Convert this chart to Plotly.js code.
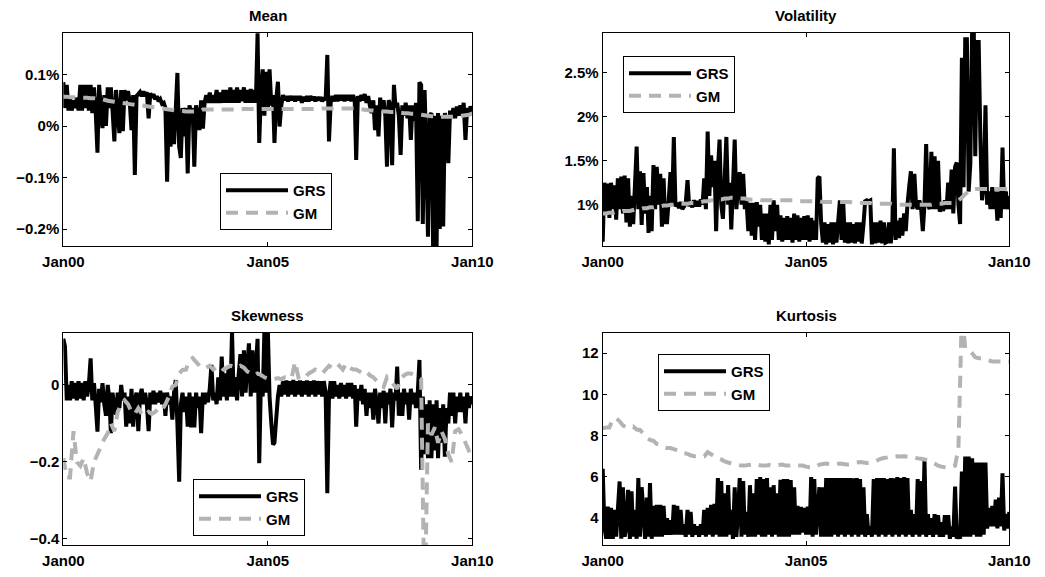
<!DOCTYPE html>
<html>
<head>
<meta charset="utf-8">
<script src="https://cdn.plot.ly/plotly-3.0.1.min.js"></script>
<style>
  html, body { margin: 0; padding: 0; background: #fff; }
  #chart { width: 1045px; height: 577px; }
</style>
</head>
<body>
<div id="chart"></div>
<script>
// Semi-monthly grid for the GRS series, monthly grid for the GM series (Jan 2000 .. Jan 2010)
const semiDates = [];
const monthDates = [];
for (let y = 2000; y <= 2009; y++) {
  for (let m = 1; m <= 12; m++) {
    const mm = String(m).padStart(2, '0');
    semiDates.push(`${y}-${mm}-01`, `${y}-${mm}-16`);
    monthDates.push(`${y}-${mm}-01`);
  }
}
semiDates.push('2010-01-01');
monthDates.push('2010-01-01');

// ---- Mean (%) ----
const meanGRS = [
  0.085,0.035,0.08,0.03,0.055,0.03,0.05,0.035,0.055,0.03,0.08,0.03,0.08,0.035,0.08,0.03,0.08,0.025,0.075,0.03,-0.052,0.08,0.035,-0.004,
  0.06,0.0,0.075,0.035,0.075,0.03,-0.03,0.07,0.03,-0.014,0.07,-0.01,0.07,0.05,0.068,0.048,-0.008,0.06,-0.095,0.058,0.062,0.066,0.058,0.067,
  0.058,0.066,0.015,0.064,0.055,0.062,0.052,0.058,0.048,0.052,0.043,0.045,0.035,-0.108,0.035,-0.04,0.03,-0.035,0.03,0.103,-0.04,-0.062,0.035,-0.02,
  0.035,-0.092,0.04,0.025,0.035,-0.079,0.04,0.02,-0.008,0.05,-0.005,0.045,0.06,0.045,0.065,0.045,0.06,0.045,0.07,0.045,0.065,0.045,0.07,0.045,
  0.07,0.045,0.075,0.045,0.07,0.045,0.075,0.045,0.07,0.048,0.075,0.045,0.07,0.045,0.072,0.045,0.07,0.045,0.18,-0.033,0.07,0.11,0.02,0.105,
  0.03,0.11,0.04,0.06,-0.033,0.05,0.086,-0.001,0.04,0.06,0.05,0.058,0.048,0.058,0.05,0.058,0.048,0.058,0.05,0.058,0.045,0.057,0.048,0.058,
  0.048,0.058,0.05,0.057,0.048,0.056,0.05,0.056,0.048,0.055,0.05,0.138,-0.03,0.045,0.058,0.048,0.06,0.048,0.06,0.05,0.06,0.048,0.06,0.05,
  0.06,0.048,0.06,0.047,-0.066,0.058,0.048,0.06,0.05,0.062,0.045,0.058,0.04,0.025,0.05,-0.008,0.04,-0.02,0.055,0.03,0.05,0.02,-0.079,0.05,
  0.04,-0.076,0.08,0.035,0.045,0.02,-0.056,0.04,0.02,0.045,0.015,0.04,-0.027,0.04,0.01,0.045,-0.185,0.085,0.08,-0.19,0.07,-0.05,-0.215,0.02,
  0.025,-0.24,0.02,-0.24,0.025,-0.2,0.02,-0.195,0.025,0.0,-0.072,0.03,0.015,0.035,0.015,0.038,0.02,0.04,0.02,0.045,-0.027,0.035,0.02,0.038,0.028
];
const meanGM = [
  0.057,0.057,0.056,0.056,0.056,0.055,0.055,0.055,0.054,0.054,0.053,0.053,
  0.051,0.049,0.048,0.047,0.046,0.045,0.044,0.043,0.042,0.041,0.040,0.040,
  0.039,0.038,0.037,0.036,0.035,0.034,0.033,0.032,0.031,0.030,0.029,0.029,
  0.028,0.028,0.028,0.028,0.029,0.032,0.032,0.032,0.032,0.032,0.032,0.032,
  0.032,0.032,0.032,0.032,0.032,0.033,0.033,0.033,0.033,0.033,0.033,0.033,
  0.033,0.033,0.033,0.033,0.033,0.033,0.033,0.033,0.033,0.033,0.033,0.033,
  0.033,0.033,0.033,0.033,0.034,0.034,0.034,0.034,0.034,0.034,0.034,0.034,
  0.034,0.034,0.034,0.033,0.032,0.031,0.030,0.030,0.029,0.029,0.028,0.028,
  0.027,0.027,0.026,0.026,0.025,0.025,0.024,0.024,0.023,0.022,0.021,0.020,
  0.019,0.019,0.018,0.018,0.018,0.018,0.018,0.019,0.019,0.020,0.021,0.022,0.024
];

// ---- Volatility (%) ----
const volGRS = [
  0.58,1.25,0.9,1.24,0.85,1.25,0.95,1.22,0.83,1.3,0.95,1.32,0.9,1.33,0.8,1.3,0.75,1.1,0.78,1.2,1.66,0.95,1.38,0.77,
  1.36,0.9,1.2,0.68,1.1,0.7,1.45,0.95,1.43,1.0,1.35,0.75,1.3,0.8,0.8,1.05,1.37,1.0,1.77,0.98,1.02,0.96,1.03,0.95,
  0.98,1.02,1.28,0.98,1.04,0.97,1.05,0.98,1.04,0.98,1.06,1.0,1.3,0.95,1.83,1.1,1.56,1.2,1.5,0.7,1.4,1.74,1.0,0.84,
  1.3,1.77,1.0,1.25,0.72,1.2,1.74,0.95,1.2,1.37,1.0,1.35,0.95,1.05,0.7,1.02,0.65,1.02,0.6,1.03,0.75,1.0,0.6,0.9,
  0.58,0.9,0.55,1.0,0.6,1.05,0.7,1.0,0.6,0.88,0.58,0.85,0.6,0.87,0.6,0.85,0.57,0.9,0.6,0.88,0.58,0.85,0.6,0.87,
  0.6,0.88,0.58,0.85,0.6,0.82,0.6,1.3,1.32,0.8,0.57,0.8,0.55,0.78,0.57,0.8,0.55,0.8,0.57,0.8,1.05,0.6,1.03,0.57,
  0.8,0.56,0.8,0.57,0.78,0.56,0.8,0.58,0.8,0.56,0.78,1.04,1.05,1.04,1.05,0.55,0.8,0.56,0.8,0.57,0.82,0.56,0.8,0.57,
  0.58,0.8,0.56,0.82,1.64,0.6,0.82,0.62,0.85,0.65,0.9,0.7,1.0,1.2,1.38,0.95,1.35,1.0,0.95,1.05,0.95,0.7,1.0,1.69,
  1.0,0.95,1.6,0.95,1.55,0.95,1.5,0.92,1.0,0.93,1.05,0.95,1.25,0.95,1.4,0.9,1.43,1.48,1.0,0.78,2.67,1.2,2.88,2.88,
  1.15,1.47,3.0,3.0,1.55,2.85,2.85,1.75,1.05,1.2,2.13,1.0,1.15,0.95,1.2,0.95,1.15,0.82,1.15,0.85,1.65,0.95,1.15,0.95,1.1
];
const volGM = [
  0.90,0.90,0.91,0.91,0.92,0.92,0.93,0.93,0.93,0.94,0.95,0.95,
  0.96,0.96,0.97,0.97,0.98,0.98,0.99,0.99,1.00,1.00,1.00,1.01,
  1.01,1.01,1.02,1.02,1.03,1.03,1.04,1.04,1.05,1.05,1.06,1.06,
  1.07,1.07,1.08,1.08,1.07,1.07,1.07,1.06,1.06,1.06,1.06,1.05,
  1.05,1.05,1.05,1.05,1.05,1.05,1.05,1.05,1.05,1.05,1.04,1.04,
  1.04,1.04,1.04,1.04,1.04,1.03,1.03,1.03,1.03,1.03,1.03,1.03,
  1.03,1.03,1.02,1.02,1.02,1.02,1.02,1.02,1.01,1.01,1.01,1.01,
  1.01,1.01,1.00,1.00,1.00,1.00,1.00,1.00,1.00,1.00,1.00,1.00,
  1.00,1.00,1.01,1.01,1.01,1.02,1.02,1.02,1.03,1.05,1.08,1.12,
  1.15,1.17,1.18,1.18,1.18,1.18,1.18,1.18,1.18,1.18,1.18,1.18,1.18
];

// ---- Skewness ----
const skewGRS = [
  0.12,0.1,-0.04,0.0,-0.04,0.01,-0.035,0.005,-0.04,0.01,-0.035,0.005,-0.04,0.01,-0.03,0.0,0.069,-0.04,0.005,-0.05,-0.121,-0.01,-0.045,0.005,
  -0.05,-0.08,0.0,-0.04,-0.125,-0.02,-0.06,-0.077,-0.02,-0.06,0.0,-0.04,-0.02,-0.108,-0.03,-0.1,-0.01,-0.108,-0.04,-0.02,-0.12,-0.03,-0.01,-0.05,
  -0.02,-0.05,-0.12,-0.02,-0.05,-0.015,-0.05,-0.02,-0.045,-0.015,-0.05,-0.02,-0.08,-0.02,-0.05,-0.03,-0.09,-0.02,0.013,-0.1,-0.251,-0.05,-0.02,-0.07,
  -0.03,-0.108,-0.02,-0.11,-0.03,-0.11,-0.02,-0.06,-0.03,-0.125,-0.02,-0.05,-0.02,-0.045,-0.01,0.052,-0.04,-0.02,-0.05,0.02,-0.04,0.074,-0.03,0.03,
  -0.04,0.05,-0.03,0.14,-0.03,0.02,-0.04,0.03,0.08,-0.03,0.09,-0.02,0.05,0.108,-0.03,0.09,-0.02,0.05,0.12,-0.203,0.02,-0.03,0.14,-0.02,
  0.14,-0.03,-0.1,-0.155,-0.15,-0.09,-0.03,0.0,-0.03,0.01,-0.025,0.012,-0.03,0.01,-0.025,0.013,-0.03,0.01,-0.025,0.012,-0.03,0.01,-0.025,0.012,
  -0.03,0.01,-0.025,0.012,-0.03,0.01,-0.025,0.01,-0.03,0.01,-0.02,-0.281,-0.03,0.01,-0.035,0.01,-0.03,0.0,-0.035,0.005,-0.03,0.0,-0.035,0.005,
  -0.03,0.005,-0.035,0.0,-0.108,-0.01,-0.04,0.0,-0.05,-0.01,-0.08,-0.02,-0.06,-0.02,-0.09,-0.01,-0.05,-0.1,-0.02,-0.06,-0.015,-0.1,-0.02,-0.05,
  -0.01,-0.11,-0.02,-0.04,0.048,-0.08,-0.02,-0.08,-0.01,-0.05,-0.02,-0.09,-0.01,-0.05,-0.02,-0.06,-0.02,0.065,-0.22,-0.03,-0.18,-0.05,-0.19,-0.04,
  -0.19,-0.05,-0.17,-0.04,-0.19,-0.06,-0.15,-0.05,-0.186,-0.06,-0.1,-0.02,-0.08,-0.02,-0.1,-0.03,-0.07,-0.02,-0.07,-0.03,-0.1,-0.02,-0.06,-0.03,-0.05
];
const skewGM = [
  -0.19,-0.24,-0.24,-0.12,-0.2,-0.21,-0.19,-0.23,-0.25,-0.2,-0.18,-0.16,
  -0.14,-0.125,-0.1,-0.12,-0.07,-0.05,-0.04,-0.05,-0.07,-0.075,-0.06,-0.075,
  -0.08,-0.07,-0.075,-0.07,-0.06,-0.065,-0.05,-0.03,-0.004,0.0,0.03,0.039,
  0.04,0.065,0.07,0.06,0.05,0.052,0.045,0.05,0.04,0.045,0.05,0.04,
  0.045,0.05,0.048,0.045,0.05,0.045,0.035,0.03,0.025,0.03,0.026,0.02,
  0.017,0.017,0.015,0.018,0.015,0.02,0.02,0.018,0.06,0.02,0.025,0.02,
  0.03,0.035,0.04,0.035,0.03,0.04,0.05,0.045,0.04,0.05,0.04,0.055,
  0.045,0.04,0.04,0.035,0.03,0.035,0.025,0.02,0.01,0.0,-0.005,0.02,
  0.01,0.0,-0.01,0.015,0.025,0.03,0.03,0.025,0.02,0.015,-0.6,-0.1,
  -0.13,-0.11,-0.15,-0.12,-0.14,-0.18,-0.2,-0.12,-0.115,-0.13,-0.15,-0.17,-0.165
];

// ---- Kurtosis ----
const kurtGRS = [
  6.4,3.6,3.0,4.56,3.0,4.5,3.0,4.4,3.1,4.4,5.78,3.0,5.5,3.1,3.6,5.37,3.0,5.3,3.1,4.4,3.0,5.94,3.1,5.5,
  4.3,3.0,5.0,3.1,5.7,3.0,4.6,3.1,4.65,3.1,4.65,3.1,4.6,3.2,4.0,3.2,3.9,3.2,4.65,3.2,4.6,3.2,4.4,3.2,
  3.7,3.1,4.4,3.2,4.3,3.1,3.7,3.2,3.6,3.1,3.7,3.2,4.4,3.1,4.5,3.2,4.65,3.1,4.7,3.2,5.94,3.1,5.8,3.1,
  5.2,3.1,5.6,3.2,4.4,3.0,5.5,3.1,4.3,5.94,3.1,5.8,3.2,4.3,3.1,5.6,3.1,5.2,3.1,5.9,3.2,6.0,3.1,5.9,
  3.1,5.95,3.2,5.5,3.1,5.6,3.2,5.2,3.1,5.86,3.1,5.9,3.1,5.9,3.1,5.85,3.2,5.5,3.2,4.6,3.2,4.55,3.3,4.5,
  3.2,4.56,3.2,6.0,3.1,5.9,3.2,4.4,5.5,3.1,5.5,3.1,5.94,3.1,5.94,3.1,5.94,3.2,5.94,3.1,5.94,3.2,5.94,3.1,
  5.94,3.2,5.94,3.1,5.94,3.2,5.94,3.1,5.9,3.2,5.5,3.1,4.2,3.2,3.6,3.1,5.9,3.2,5.94,3.1,5.94,3.2,5.94,3.1,
  5.9,3.2,5.94,3.1,5.94,3.2,6.0,3.1,5.94,3.2,6.0,3.1,5.94,3.2,4.4,3.1,4.2,3.2,5.9,3.1,5.8,3.2,6.83,3.1,
  4.2,3.2,4.0,3.1,4.2,3.2,4.15,3.1,3.8,3.1,4.15,3.2,4.15,3.0,3.6,3.1,5.53,3.0,3.5,3.0,6.26,3.1,6.99,3.1,
  6.99,3.1,6.9,3.2,6.7,3.1,6.7,3.1,6.7,3.2,6.7,3.5,4.5,3.6,4.6,3.6,4.9,3.5,5.0,3.6,6.18,3.4,4.2,3.5,4.3
];
const kurtGM = [
  8.36,8.4,8.4,8.8,8.85,8.7,8.5,8.4,8.4,8.45,8.3,8.28,
  8.1,7.9,7.8,7.75,7.6,7.55,7.45,7.4,7.4,7.35,7.3,7.2,
  7.15,7.12,7.05,7.0,7.0,6.99,7.0,7.2,7.1,7.0,6.9,6.85,
  6.75,6.7,6.65,6.6,6.58,6.55,6.55,6.58,6.6,6.55,6.58,6.55,
  6.55,6.58,6.55,6.55,6.58,6.6,6.55,6.55,6.58,6.55,6.55,6.55,
  6.5,6.47,6.47,6.5,6.6,6.63,6.65,6.63,6.6,6.63,6.65,6.63,
  6.6,6.63,6.65,6.7,6.72,6.7,6.68,6.7,6.72,6.8,6.88,6.92,
  6.95,7.0,6.98,7.0,6.99,7.0,6.98,6.97,6.95,6.9,6.88,6.85,
  6.8,6.72,6.65,6.55,6.5,6.47,6.45,6.5,6.55,7.4,14,12.25,
  12.2,12.0,11.8,11.76,11.75,11.7,11.65,11.6,11.6,11.6,11.6,11.6,11.6
];

// ---- Axis ticks and titles ----
const panelTitles = ['Mean', 'Volatility', 'Skewness', 'Kurtosis'];
const dateTicks = ['2000-01-01', '2005-01-01', '2010-01-01'];
const dateTickText = ['Jan00', 'Jan05', 'Jan10'];
const meanTicks = [-0.2, -0.1, 0, 0.1];
const meanTickText = ['\u22120.2%', '\u22120.1%', '0%', '0.1%'];
const volTicks = [1, 1.5, 2, 2.5];
const volTickText = ['1%', '1.5%', '2%', '2.5%'];
const skewTicks = [-0.4, -0.2, 0];
const skewTickText = ['\u22120.4', '\u22120.2', '0'];
const kurtTicks = [4, 6, 8, 10, 12];
const kurtTickText = ['4', '6', '8', '10', '12'];

const FONT = 'Liberation Sans, Arial, Helvetica, sans-serif';
const GRS_LINE = { color: '#000000', width: 4, simplify: false };
const GM_LINE = { color: '#b3b3b3', width: 4, dash: '12px,8px', simplify: false };

const W = 1045, H = 577;
const px = v => v / W;
const py = v => 1 - v / H;

const panels = [
  { grs: meanGRS, gm: meanGM, xa: 'x',  ya: 'y',  lg: 'legend'  },
  { grs: volGRS,  gm: volGM,  xa: 'x2', ya: 'y2', lg: 'legend2' },
  { grs: skewGRS, gm: skewGM, xa: 'x3', ya: 'y3', lg: 'legend3' },
  { grs: kurtGRS, gm: kurtGM, xa: 'x4', ya: 'y4', lg: 'legend4' }
];

const traces = [];
panels.forEach(p => {
  traces.push({ type: 'scatter', mode: 'lines', name: 'GRS', x: semiDates, y: p.grs,
    xaxis: p.xa, yaxis: p.ya, legend: p.lg, line: GRS_LINE, hoverinfo: 'skip' });
});
panels.forEach(p => {
  traces.push({ type: 'scatter', mode: 'lines', name: 'GM', x: monthDates, y: p.gm,
    xaxis: p.xa, yaxis: p.ya, legend: p.lg, line: GM_LINE, hoverinfo: 'skip' });
});

const tickFont = { family: FONT, size: 15, color: '#000', weight: 'bold' };

function xAxis(domain, anchor) {
  return {
    type: 'date', domain, anchor,
    range: ['2000-01-01', '2010-01-01'],
    tickmode: 'array', tickvals: dateTicks, ticktext: dateTickText,
    ticks: 'inside', ticklen: 4, tickwidth: 1, tickcolor: '#000',
    showline: true, linecolor: '#000', linewidth: 1, mirror: 'ticks',
    showgrid: false, zeroline: false, tickfont: tickFont, fixedrange: true,
    ticklabelstandoff: 2
  };
}
function yAxis(domain, anchor, range, vals, text) {
  return {
    domain, anchor, range,
    tickmode: 'array', tickvals: vals, ticktext: text,
    ticks: 'inside', ticklen: 4, tickwidth: 1, tickcolor: '#000',
    showline: true, linecolor: '#000', linewidth: 1, mirror: 'ticks',
    showgrid: false, zeroline: false, tickfont: tickFont, fixedrange: true
  };
}

const colL = [px(63.3), px(472.3)];
const colR = [px(602.7), px(1009.3)];
const rowT = [py(246), py(33)];
const rowB = [py(545), py(333)];

function legendBox(x, y) {
  return {
    x: px(x), y: py(y), xanchor: 'left', yanchor: 'top',
    bgcolor: '#ffffff', bordercolor: '#000000', borderwidth: 1,
    font: { family: FONT, size: 15, color: '#000', weight: 'bold' },
    itemwidth: 62, traceorder: 'normal', tracegroupgap: 0
  };
}

function titleAnn(text, x, y) {
  return { text, x: px(x), y: py(y), xref: 'paper', yref: 'paper',
    xanchor: 'center', yanchor: 'middle', showarrow: false,
    font: { family: FONT, size: 15, color: '#000', weight: 'bold' } };
}

const layout = {
  width: W, height: H,
  margin: { l: 0, r: 0, t: 0, b: 0 },
  paper_bgcolor: '#fff', plot_bgcolor: '#fff',
  showlegend: true,
  xaxis:  xAxis(colL, 'y'),
  yaxis:  yAxis(rowT, 'x',  [-0.233, 0.1806], meanTicks, meanTickText),
  xaxis2: xAxis(colR, 'y2'),
  yaxis2: yAxis(rowT, 'x2', [0.531, 2.951], volTicks, volTickText),
  xaxis3: xAxis(colL, 'y3'),
  yaxis3: yAxis(rowB, 'x3', [-0.4156, 0.135], skewTicks, skewTickText),
  xaxis4: xAxis(colR, 'y4'),
  yaxis4: yAxis(rowB, 'x4', [2.70, 12.98], kurtTicks, kurtTickText),
  legend:  legendBox(220, 173),
  legend2: legendBox(623, 56),
  legend3: legendBox(193, 479),
  legend4: legendBox(658, 354),
  annotations: [
    titleAnn(panelTitles[0], 267.8, 15.4),
    titleAnn(panelTitles[1], 806, 15.4),
    titleAnn(panelTitles[2], 267.8, 315.5),
    titleAnn(panelTitles[3], 806, 315.5)
  ]
};

Plotly.newPlot('chart', traces, layout, { displayModeBar: false, staticPlot: true });
</script>
</body>
</html>
